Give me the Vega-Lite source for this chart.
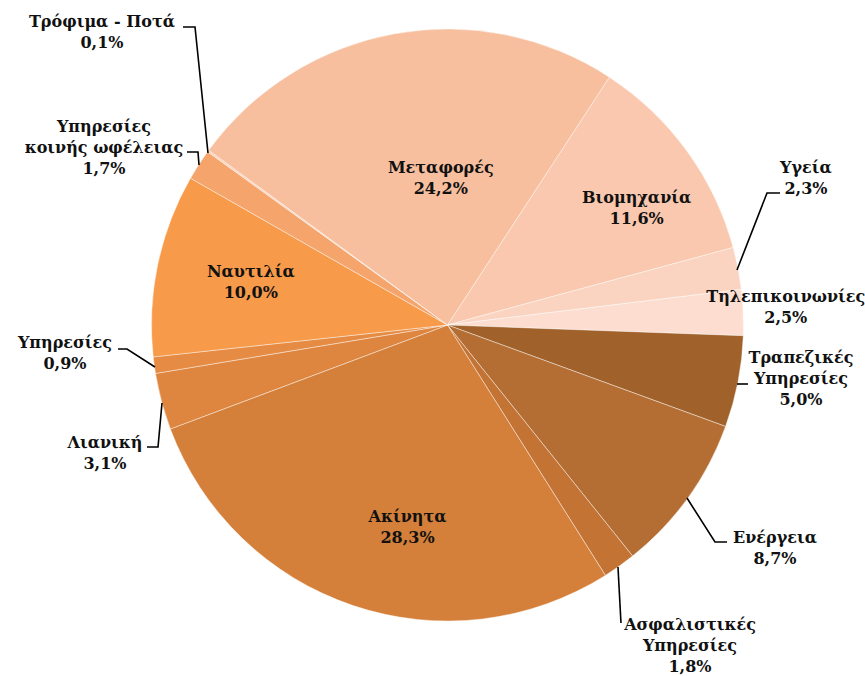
{
  "$schema": "https://vega.github.io/schema/vega-lite/v6.json",
  "width": 865,
  "height": 676,
  "autosize": "none",
  "padding": 0,
  "background": "white",
  "config": {"view": {"stroke": null}},
  "datasets": {
    "slices": [
      {"sector": "Βιομηχανία", "value": 11.6, "ord": 1},
      {"sector": "Υγεία", "value": 2.3, "ord": 2},
      {"sector": "Τηλεπικοινωνίες", "value": 2.5, "ord": 3},
      {"sector": "Τραπεζικές Υπηρεσίες", "value": 5.0, "ord": 4},
      {"sector": "Ενέργεια", "value": 8.7, "ord": 5},
      {"sector": "Ασφαλιστικές Υπηρεσίες", "value": 1.8, "ord": 6},
      {"sector": "Ακίνητα", "value": 28.3, "ord": 7},
      {"sector": "Λιανική", "value": 3.1, "ord": 8},
      {"sector": "Υπηρεσίες", "value": 0.9, "ord": 9},
      {"sector": "Ναυτιλία", "value": 10.0, "ord": 10},
      {"sector": "Υπηρεσίες κοινής ωφέλειας", "value": 1.7, "ord": 11},
      {"sector": "Τρόφιμα - Ποτά", "value": 0.1, "ord": 12},
      {"sector": "Μεταφορές", "value": 24.2, "ord": 13}
    ],
    "labels": [
      {"text": "Τρόφιμα - Ποτά\n0,1%", "u": -1.1672, "v": 1.0236},
      {"text": "Υπηρεσίες\nκοινής ωφέλειας\n1,7%", "u": -1.1605, "v": 0.6689},
      {"text": "Μεταφορές\n24,2%", "u": -0.0226, "v": 0.5304},
      {"text": "Βιομηχανία\n11,6%", "u": 0.6392, "v": 0.4291},
      {"text": "Υγεία\n2,3%", "u": 1.2111, "v": 0.5304},
      {"text": "Τηλεπικοινωνίες\n2,5%", "u": 1.1429, "v": 0.0946},
      {"text": "Τραπεζικές\nΥπηρεσίες\n5,0%", "u": 1.1943, "v": -0.1115},
      {"text": "Υπηρεσίες\n0,9%", "u": -1.2922, "v": -0.0608},
      {"text": "Λιανική\n3,1%", "u": -1.1571, "v": -0.3986},
      {"text": "Ναυτιλία\n10,0%", "u": -0.6645, "v": 0.1791},
      {"text": "Ακίνητα\n28,3%", "u": -0.1351, "v": -0.6486},
      {"text": "Ενέργεια\n8,7%", "u": 1.1064, "v": -0.7196},
      {"text": "Ασφαλιστικές\nΥπηρεσίες\n1,8%", "u": 0.8193, "v": -1.0135}
    ],
    "leaders": [
      {"id": "food", "i": 1, "u": -0.8936, "v": 1.0068},
      {"id": "food", "i": 2, "u": -0.853, "v": 1.0068},
      {"id": "food", "i": 3, "u": -0.8091, "v": 0.5811},
      {"id": "util", "i": 1, "u": -0.8801, "v": 0.5845},
      {"id": "util", "i": 2, "u": -0.8429, "v": 0.5845},
      {"id": "util", "i": 3, "u": -0.8395, "v": 0.5405},
      {"id": "health", "i": 1, "u": 0.978, "v": 0.1858},
      {"id": "health", "i": 2, "u": 1.0794, "v": 0.4459},
      {"id": "health", "i": 3, "u": 1.1233, "v": 0.4459},
      {"id": "bank", "i": 1, "u": 0.978, "v": -0.1993},
      {"id": "bank", "i": 2, "u": 1.0152, "v": -0.1993},
      {"id": "serv", "i": 1, "u": -0.9882, "v": -0.1419},
      {"id": "serv", "i": 2, "u": -1.0828, "v": -0.0811},
      {"id": "serv", "i": 3, "u": -1.1132, "v": -0.0811},
      {"id": "retail", "i": 1, "u": -0.9645, "v": -0.2635},
      {"id": "retail", "i": 2, "u": -0.978, "v": -0.4122},
      {"id": "retail", "i": 3, "u": -1.0152, "v": -0.4122},
      {"id": "energy", "i": 1, "u": 0.8091, "v": -0.5845},
      {"id": "energy", "i": 2, "u": 0.9037, "v": -0.7331},
      {"id": "energy", "i": 3, "u": 0.9443, "v": -0.7331},
      {"id": "ins", "i": 1, "u": 0.576, "v": -0.8176},
      {"id": "ins", "i": 2, "u": 0.5861, "v": -1.0068}
    ]
  },
  "resolve": {"scale": {"x": "shared", "y": "shared"}},
  "layer": [
    {
      "data": {"name": "slices"},
      "mark": {"type": "arc", "outerRadius": 296, "stroke": "white", "strokeWidth": 0.7, "strokeOpacity": 0.6},
      "encoding": {
        "x": {"datum": 0, "type": "quantitative", "scale": {"domain": [-1.5118, 1.4105], "nice": false, "zero": false}, "axis": null},
        "y": {"datum": 0, "type": "quantitative", "scale": {"domain": [-1.1858, 1.098], "nice": false, "zero": false}, "axis": null},
        "theta": {"field": "value", "type": "quantitative", "stack": true, "scale": {"range": [0.5786, 6.8618]}},
        "order": {"field": "ord", "type": "quantitative"},
        "color": {
          "field": "sector", "type": "nominal", "legend": null,
          "scale": {
            "domain": ["Βιομηχανία", "Υγεία", "Τηλεπικοινωνίες", "Τραπεζικές Υπηρεσίες", "Ενέργεια", "Ασφαλιστικές Υπηρεσίες", "Ακίνητα", "Λιανική", "Υπηρεσίες", "Ναυτιλία", "Υπηρεσίες κοινής ωφέλειας", "Τρόφιμα - Ποτά", "Μεταφορές"],
            "range": ["#F9C8AE", "#FAD4C1", "#FCDDD0", "#A0612A", "#B46E33", "#C37434", "#D47F3A", "#DE863F", "#E68B43", "#F79A4A", "#F5A46C", "#F9D0B8", "#F7BF9E"]
          }
        }
      }
    },
    {
      "data": {"name": "leaders"},
      "mark": {"type": "line", "color": "black", "strokeWidth": 1.6},
      "encoding": {
        "x": {"field": "u", "type": "quantitative", "scale": {"nice": false, "zero": false}},
        "y": {"field": "v", "type": "quantitative", "scale": {"nice": false, "zero": false}},
        "detail": {"field": "id"},
        "order": {"field": "i", "type": "quantitative"}
      }
    },
    {
      "data": {"name": "labels"},
      "mark": {"type": "text", "font": "DejaVu Serif", "fontWeight": "bold", "fontSize": 16, "lineBreak": "\n", "lineHeight": 21, "align": "center", "baseline": "middle", "color": "#111111"},
      "encoding": {
        "x": {"field": "u", "type": "quantitative", "scale": {"nice": false, "zero": false}},
        "y": {"field": "v", "type": "quantitative", "scale": {"nice": false, "zero": false}},
        "text": {"field": "text"}
      }
    }
  ]
}
